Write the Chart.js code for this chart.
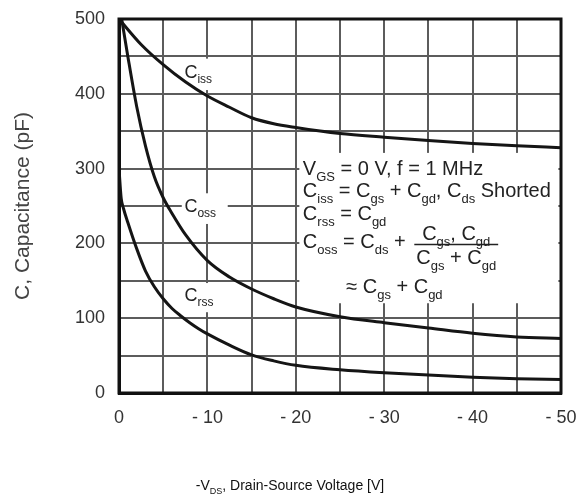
<!DOCTYPE html>
<html>
<head>
<meta charset="utf-8">
<title>Capacitance Characteristics</title>
<script src="https://cdn.jsdelivr.net/npm/chart.js@4.4.0/dist/chart.umd.min.js"></script>
<style>
html, body { margin: 0; padding: 0; background: #fff; }
#wrap { width: 578px; height: 497px; }
</style>
</head>
<body>
<div id="wrap"><canvas id="chart-area" width="578" height="497"></canvas></div>
<script>
// -VDS (V) and capacitance (pF)
var vdsIss = [0, -2.5, -5, -7.5, -10, -12.5, -15, -17.5, -20, -25, -30, -35, -40, -45, -50];
var ciss   = [500, 466, 439, 416, 397, 382, 368, 360, 355, 347, 342, 337.5, 333.5, 330.5, 328];

var vdsOss = [0, -1, -2, -3, -4, -5, -6, -7.5, -10, -12.5, -15, -17.5, -20, -25, -30, -35, -40, -45, -50];
var coss   = [522, 450, 383, 330, 289, 261, 240, 212, 177, 155, 139, 126, 115, 102, 94, 87, 80, 75, 73];

var vdsRss = [0, -0.25, -0.5, -1, -2, -3, -4, -5, -6, -7, -8, -9, -10, -12.5, -15, -17.5, -20, -25, -30, -35, -40, -45, -50];
var crss   = [300, 260, 247, 228, 193, 163, 142, 126, 113, 103, 94, 86, 79, 64, 51, 43, 37, 31, 27, 24, 21, 19, 18];

var curveNames = ['iss', 'oss', 'rss'];

var FONT = '"Liberation Sans", Arial, sans-serif';

function toPoints(xs, ys) {
    return xs.map(function (v, i) { return { x: v, y: ys[i] }; });
}

// text pieces: [text, isSubscript]
var noteLines = [
    [['V'], ['GS', 1], [' = 0 V, f = 1 MHz']],
    [['C'], ['iss', 1], [' = C'], ['gs', 1], [' + C'], ['gd', 1], [', C'], ['ds', 1], [' Shorted']],
    [['C'], ['rss', 1], [' = C'], ['gd', 1]],
    [['C'], ['oss', 1], [' = C'], ['ds', 1], [' + ']]
];
var noteNum = [['C'], ['gs', 1], [', C'], ['gd', 1]];
var noteDen = [['C'], ['gs', 1], [' + C'], ['gd', 1]];
var noteLast = [['\u2248 C'], ['gs', 1], [' + C'], ['gd', 1]];

function richText(ctx, parts, x, y, size) {
    parts.forEach(function (p) {
        var sub = p[1];
        ctx.font = (sub ? Math.round(size * 0.64) : size) + 'px ' + FONT;
        ctx.fillText(p[0], x, sub ? y + size * 0.3 : y);
        x += ctx.measureText(p[0]).width;
    });
    return x;
}

function richWidth(ctx, parts, size) {
    var w = 0;
    parts.forEach(function (p) {
        ctx.font = (p[1] ? Math.round(size * 0.64) : size) + 'px ' + FONT;
        w += ctx.measureText(p[0]).width;
    });
    return w;
}

// white patches behind labels, in data units [x1, x2, y1, y2]
var masks = [
    [-20.4, -49.7, 321, 120],
    [-7.1, -11.6, 447, 405],
    [-7.1, -12.3, 267, 226],
    [-7.3, -11.6, 147, 108]
];

var overlay = {
    id: 'overlay',
    beforeDatasetsDraw: function (chart) {
        var ctx = chart.ctx, sx = chart.scales.x, sy = chart.scales.y;
        ctx.save();
        ctx.fillStyle = '#fff';
        masks.forEach(function (m) {
            var x1 = sx.getPixelForValue(m[0]), x2 = sx.getPixelForValue(m[1]);
            var y1 = sy.getPixelForValue(m[2]), y2 = sy.getPixelForValue(m[3]);
            ctx.fillRect(Math.min(x1, x2), Math.min(y1, y2), Math.abs(x2 - x1), Math.abs(y2 - y1));
        });
        ctx.restore();
    },
    afterDatasetsDraw: function (chart) {
        var ctx = chart.ctx, sx = chart.scales.x, sy = chart.scales.y, a = chart.chartArea;
        ctx.save();
        // frame
        ctx.strokeStyle = '#111';
        ctx.lineWidth = 3;
        ctx.strokeRect(a.left, a.top, a.right - a.left, a.bottom - a.top);

        ctx.fillStyle = '#222';
        ctx.textBaseline = 'alphabetic';
        ctx.textAlign = 'left';

        // curve labels
        var lx = sx.getPixelForValue(-7.4);
        richText(ctx, [['C'], [curveNames[0], 1]], lx, sy.getPixelForValue(421), 18);
        richText(ctx, [['C'], [curveNames[1], 1]], lx, sy.getPixelForValue(242), 18);
        richText(ctx, [['C'], [curveNames[2], 1]], lx, sy.getPixelForValue(123), 18);

        // test conditions box
        var tx = sx.getPixelForValue(-20.8);
        var base = [291, 262, 231, 194];
        var fs = 20;
        noteLines.forEach(function (line, i) {
            var end = richText(ctx, line, tx, sy.getPixelForValue(base[i]), fs);
            if (i === 3) {
                var fx = end + 5;
                var wn = richWidth(ctx, noteNum, fs), wd = richWidth(ctx, noteDen, fs);
                var w = Math.max(wn, wd);
                richText(ctx, noteNum, fx + (w - wn) / 2, sy.getPixelForValue(204.5), fs);
                richText(ctx, noteDen, fx + (w - wd) / 2, sy.getPixelForValue(173), fs);
                var by = Math.round(sy.getPixelForValue(199)) + 0.5;
                ctx.strokeStyle = '#222';
                ctx.lineWidth = 1.5;
                ctx.beginPath();
                ctx.moveTo(fx - 2, by);
                ctx.lineTo(fx + w + 2, by);
                ctx.stroke();
            }
        });
        richText(ctx, noteLast, sx.getPixelForValue(-25.7), sy.getPixelForValue(134), fs);

        // axis titles
        ctx.fillStyle = '#444';
        ctx.save();
        ctx.translate(29, 206);
        ctx.rotate(-Math.PI / 2);
        ctx.textAlign = 'center';
        ctx.font = '21px ' + FONT;
        ctx.fillText('C, Capacitance (pF)', 0, 0);
        ctx.restore();

        ctx.fillStyle = '#111';
        var xt = [['-V'], ['DS', 1], [', Drain-Source Voltage [V]']];
        var wt = richWidth(ctx, xt, 14);
        richText(ctx, xt, 290 - wt / 2, 490, 14);
        ctx.restore();
    }
};

var config = {
    type: 'line',
    data: {
        datasets: [{
            label: 'Ciss',
            data: toPoints(vdsIss, ciss)
        }, {
            label: 'Coss',
            data: toPoints(vdsOss, coss)
        }, {
            label: 'Crss',
            data: toPoints(vdsRss, crss)
        }]
    },
    options: {
        responsive: false,
        animation: false,
        layout: { padding: { left: 0, top: 19, right: 17, bottom: 0 } },
        elements: {
            line: { borderColor: '#151515', borderWidth: 3, cubicInterpolationMode: 'monotone', fill: false },
            point: { radius: 0 }
        },
        plugins: {
            legend: { display: false },
            tooltip: { enabled: false }
        },
        scales: {
            x: {
                type: 'linear',
                min: -50,
                max: 0,
                reverse: true,
                afterFit: function (s) {
                    s.height = 104;
                    s.paddingLeft = 0;
                    s.paddingRight = 0;
                },
                grid: { color: '#5c5c5c', lineWidth: 2, drawTicks: false },
                border: { color: '#111', width: 3 },
                ticks: {
                    stepSize: 5,
                    autoSkip: false,
                    maxRotation: 0,
                    padding: 14,
                    color: '#333',
                    font: { family: FONT, size: 18 },
                    callback: function (v) {
                        if (v % 10 !== 0) return '';
                        return v === 0 ? '0' : '- ' + Math.abs(v);
                    }
                }
            },
            y: {
                min: 0,
                max: 500,
                afterFit: function (s) {
                    s.width = 119;
                    s.paddingTop = 0;
                    s.paddingBottom = 0;
                },
                grid: { color: '#5c5c5c', lineWidth: 2, drawTicks: false },
                border: { color: '#111', width: 3 },
                ticks: {
                    stepSize: 50,
                    autoSkip: false,
                    padding: 14,
                    color: '#333',
                    font: { family: FONT, size: 18 },
                    callback: function (v) { return v % 100 === 0 ? String(v) : ''; }
                }
            }
        }
    },
    plugins: [overlay]
};

window.onload = function () {
    var ctx = document.getElementById('chart-area').getContext('2d');
    window.myLine = new Chart(ctx, config);
};
</script>
</body>
</html>
